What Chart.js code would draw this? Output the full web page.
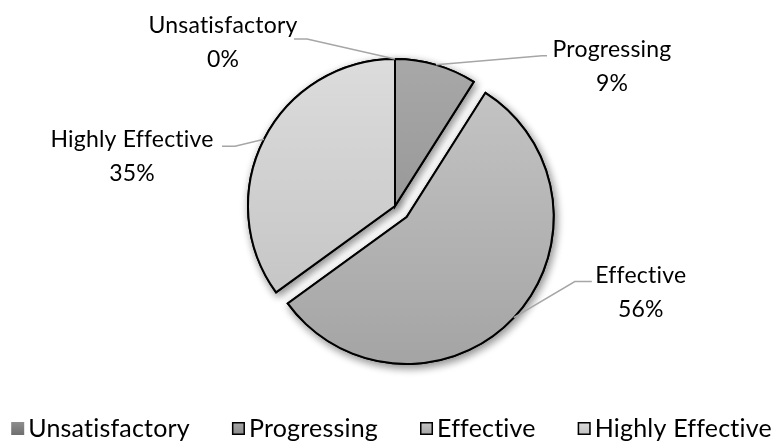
<!DOCTYPE html>
<html>
<head>
<meta charset="utf-8">
<script src="https://cdn.jsdelivr.net/npm/chart.js@4"></script>
<style>
  html, body { margin: 0; padding: 0; background: #fff; }
</style>
</head>
<body>
<canvas id="ratingChart" width="783" height="442"></canvas>
<script>
// rating categories and share of staff in each (%)
const categories = ['Unsatisfactory', 'Progressing', 'Effective', 'Highly Effective'];
const shares = [0, 9, 56, 35];

// how far (px) each slice is pulled out from the centre
const explode = [0, 0, 16, 0];
const pieRadius = 147;

// top / bottom gradient stops for each slice
const shades = [
  ['#8e8e8e', '#6e6e6e'],
  ['#a8a8a8', '#8a8a8a'],
  ['#c6c6c6', '#a4a4a4'],
  ['#dcdcdc', '#c0c0c0']
];

// callouts, relative to the point on the slice edge:
// dx/dy = text centre and first baseline, leader = bend + end of the grey line
const callouts = [
  { dx: -172, dy: -26, leader: [[-88, -20], [-101, -20]] },
  { dx: 176, dy: -8, leader: [[106, -9], [111, -9]] },
  { dx: 127, dy: -35, leader: [[61, -36], [78, -36]] },
  { dx: -132, dy: 8, leader: [[-29, 7], [-42, 7]] }
];

const labelFont = '23px Lato';
const legendFont = '25px Lato';

function sliceFill(c) {
  const chart = c.chart;
  const i = c.dataIndex || 0;
  const area = chart.chartArea;
  if (!area) return shades[i][0];
  const cy = (area.top + area.bottom) / 2;
  const g = chart.ctx.createLinearGradient(0, cy - pieRadius, 0, cy + pieRadius);
  g.addColorStop(0, shades[i][0]);
  g.addColorStop(1, shades[i][1]);
  return g;
}

function sliceShift(arc, i) {
  const mid = (arc.startAngle + arc.endAngle) / 2;
  return [Math.cos(mid) * explode[i], Math.sin(mid) * explode[i]];
}

// draws the slices moved out along their bisector, over a soft drop shadow
const explodedPie = {
  id: 'explodedPie',
  beforeDatasetDraw(chart, args) {
    const ctx = chart.ctx;
    const arcs = args.meta.data;
    const paint = () => arcs.forEach((arc, i) => {
      const s = sliceShift(arc, i);
      ctx.save();
      ctx.translate(s[0], s[1]);
      arc.draw(ctx);
      ctx.restore();
    });
    ctx.save();
    ctx.shadowColor = 'rgba(0,0,0,0.45)';
    ctx.shadowBlur = 8;
    ctx.shadowOffsetX = 2;
    ctx.shadowOffsetY = 3;
    paint();
    ctx.restore();
    paint();
    return false;
  }
};

// name + percent callouts with leader lines
const sliceCallouts = {
  id: 'sliceCallouts',
  afterDraw(chart) {
    const ctx = chart.ctx;
    ctx.save();
    ctx.letterSpacing = '0.2px'; // keeps "ti" from joining into a ligature
    chart.getDatasetMeta(0).data.forEach((arc, i) => {
      const mid = (arc.startAngle + arc.endAngle) / 2;
      const s = sliceShift(arc, i);
      const ax = arc.x + s[0] + Math.cos(mid) * arc.outerRadius;
      const ay = arc.y + s[1] + Math.sin(mid) * arc.outerRadius;
      const co = callouts[i];

      ctx.strokeStyle = '#a6a6a6';
      ctx.lineWidth = 1.5;
      ctx.beginPath();
      ctx.moveTo(ax, ay);
      co.leader.forEach(pt => ctx.lineTo(ax + pt[0], ay + pt[1]));
      ctx.stroke();

      ctx.fillStyle = '#000';
      ctx.font = labelFont;
      ctx.textAlign = 'center';
      ctx.textBaseline = 'alphabetic';
      ctx.fillText(categories[i], ax + co.dx, ay + co.dy);
      ctx.fillText(shares[i] + '%', ax + co.dx, ay + co.dy + 34);
    });
    ctx.restore();
  }
};

// legend row along the bottom
const bottomLegend = {
  id: 'bottomLegend',
  afterDraw(chart) {
    const ctx = chart.ctx;
    const box = 13, pad = 4, gap = 42, base = 437;
    ctx.save();
    ctx.font = legendFont;
    ctx.letterSpacing = '0.2px';
    const widths = categories.map(c => box + pad + ctx.measureText(c).width);
    const total = widths.reduce((a, b) => a + b, 0) + gap * (categories.length - 1);
    let x = (chart.width - total) / 2;
    categories.forEach((c, i) => {
      const top = base - 15;
      const g = ctx.createLinearGradient(0, top, 0, top + box);
      g.addColorStop(0, shades[i][0]);
      g.addColorStop(1, shades[i][1]);
      ctx.fillStyle = g;
      ctx.fillRect(x, top, box, box);
      if (shares[i] > 0) {
        ctx.strokeStyle = '#000';
        ctx.lineWidth = 1.5;
        ctx.strokeRect(x + 0.75, top + 0.75, box - 1.5, box - 1.5);
      }
      ctx.fillStyle = '#000';
      ctx.textAlign = 'left';
      ctx.textBaseline = 'alphabetic';
      ctx.fillText(c, x + box + pad, base);
      x += widths[i] + gap;
    });
    ctx.restore();
  }
};

new Chart(document.getElementById('ratingChart'), {
  type: 'pie',
  data: {
    labels: categories,
    datasets: [{
      data: shares,
      backgroundColor: sliceFill,
      borderColor: '#000',
      borderWidth: 2,
      borderJoinStyle: 'miter',
      hoverOffset: 0
    }]
  },
  options: {
    responsive: false,
    animation: false,
    radius: pieRadius,
    layout: { padding: { left: 7, right: 0, top: 0, bottom: 30 } },
    plugins: {
      legend: { display: false },
      tooltip: { enabled: false }
    }
  },
  plugins: [explodedPie, sliceCallouts, bottomLegend]
});
</script>
</body>
</html>
